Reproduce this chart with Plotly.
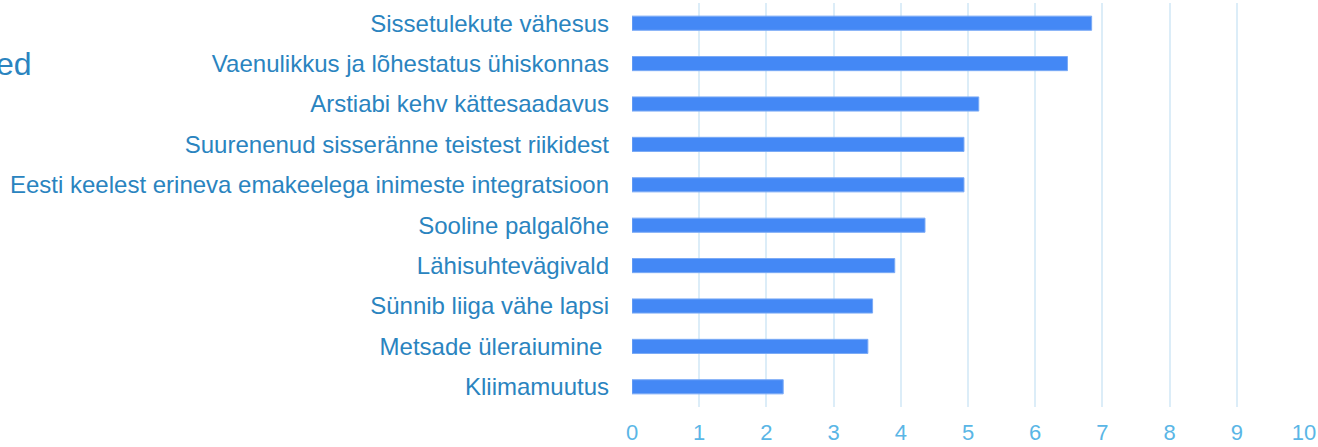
import plotly.graph_objects as go

categories = [
    "Sissetulekute vähesus",
    "Vaenulikkus ja lõhestatus ühiskonnas",
    "Arstiabi kehv kättesaadavus",
    "Suurenenud sisseränne teistest riikidest",
    "Eesti keelest erineva emakeelega inimeste integratsioon",
    "Sooline palgalõhe",
    "Lähisuhtevägivald",
    "Sünnib liiga vähe lapsi",
    "Metsade üleraiumine\u00a0",
    "Kliimamuutus",
]
values = [6.84, 6.48, 5.16, 4.94, 4.94, 4.36, 3.91, 3.58, 3.51, 2.25]
x_ticks = list(range(0, 11))
title_fragment = "ed"

fig = go.Figure(
    go.Bar(
        y=categories,
        x=values,
        orientation="h",
        marker=dict(color="#4488f5", line=dict(color="#7aaaf6", width=1)),
        hoverinfo="x+y",
    )
)

fig.update_layout(
    width=1318,
    height=447,
    margin=dict(l=632, r=14, t=3, b=40, pad=0, autoexpand=False),
    paper_bgcolor="white",
    plot_bgcolor="white",
    bargap=0.65,
    showlegend=False,
    font=dict(family="Liberation Sans, Arial, sans-serif"),
)

fig.update_yaxes(
    categoryorder="array",
    categoryarray=categories[::-1],
    range=[-0.5, 9.5],
    tickfont=dict(size=24, color="#2a84bf"),
    showgrid=False,
    zeroline=False,
    showline=False,
    ticks="",
    ticklabelstandoff=22,
    automargin=False,
)

fig.update_xaxes(
    range=[0, 10],
    tickvals=x_ticks,
    ticktext=[str(t) for t in x_ticks],
    tickfont=dict(size=22, color="#5ab6e6"),
    showgrid=True,
    gridcolor="#dcedf8",
    gridwidth=2,
    zeroline=False,
    showline=False,
    ticks="",
    ticklabelstandoff=10,
    automargin=False,
)

fig.add_annotation(
    text=title_fragment,
    xref="paper",
    yref="paper",
    x=-0.8893,
    y=0.849,
    xanchor="right",
    yanchor="middle",
    showarrow=False,
    font=dict(size=32, color="#2a84bf"),
)

fig.write_html(
    "out.html",
    config={"displayModeBar": False},
    post_script="document.body.style.margin='0';document.body.style.overflow='hidden';",
)
